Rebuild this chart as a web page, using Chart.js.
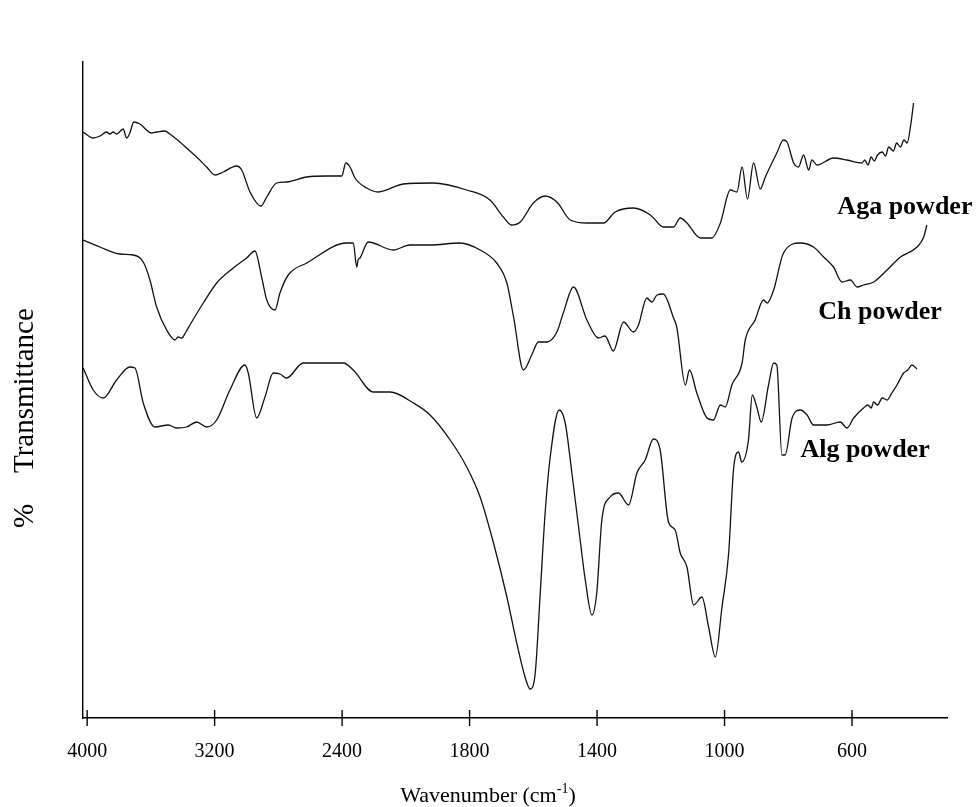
<!DOCTYPE html>
<html>
<head>
<meta charset="utf-8">
<script src="https://cdn.jsdelivr.net/npm/chart.js@4.4.1/dist/chart.umd.min.js"></script>
<style>
  html, body { margin: 0; background: #fff; }
</style>
</head>
<body>
<canvas id="ftir" width="978" height="807"></canvas>
<script>
// wavenumber ticks (axis is compressed 2x above 2000 cm-1)
const tickLabels = [4000, 3200, 2400, 1800, 1400, 1000, 600];

// Aga powder
const agaWave = [4025, 3962, 3920, 3878, 3857, 3837, 3815, 3774, 3752, 3732, 3707, 3669, 3595, 3564, 3512, 3481, 3418, 3376, 3313, 3250, 3198, 3146, 3062, 3030, 2978, 2909, 2873, 2811, 2748, 2622, 2497, 2402, 2377, 2350, 2319, 2246, 2173, 2016, 1914, 1809, 1736, 1694, 1668, 1641, 1600, 1563, 1526, 1484, 1432, 1380, 1343, 1286, 1233, 1223, 1192, 1160, 1139, 1118, 1076, 1040, 1013, 982, 961, 945, 928, 909, 888, 872, 836, 815, 804, 783, 768, 752, 736, 726, 710, 658, 616, 569, 560, 550, 540, 530, 520, 505, 495, 485, 470, 460, 448, 437, 427, 415, 407];
const agaT = [586, 580, 582, 586, 584, 586, 584, 589, 580, 585, 596, 594, 585, 586, 587, 584, 576, 570, 561, 551, 543, 546, 552, 548, 526, 512, 521, 535, 536, 541, 542, 542, 555, 551, 540, 530, 526, 534, 535, 528, 518, 501, 493, 496, 515, 522, 516, 498, 495, 495, 506, 510, 503, 500, 491, 491, 500, 495, 480, 480, 495, 528, 526, 551, 519, 555, 529, 541, 565, 578, 576, 555, 551, 563, 548, 558, 553, 560, 558, 555, 558, 553, 561, 557, 563, 566, 562, 571, 567, 575, 571, 578, 575, 595, 615];

// Ch powder
const chWave = [4025, 3920, 3795, 3711, 3648, 3606, 3564, 3501, 3449, 3430, 3407, 3380, 3355, 3271, 3187, 3083, 2999, 2947, 2905, 2873, 2821, 2790, 2738, 2622, 2371, 2330, 2308, 2300, 2288, 2236, 2079, 1987, 1924, 1830, 1767, 1715, 1683, 1662, 1631, 1605, 1584, 1558, 1526, 1506, 1474, 1432, 1396, 1375, 1349, 1317, 1286, 1270, 1244, 1228, 1212, 1192, 1160, 1150, 1123, 1110, 1087, 1055, 1035, 1013, 998, 977, 945, 935, 904, 878, 866, 846, 815, 762, 721, 689, 658, 632, 605, 584, 564, 532, 490, 448, 396, 375, 365];
const chT = [478, 471, 464, 463, 456, 438, 411, 388, 378, 381, 380, 386, 393, 415, 435, 450, 460, 467, 441, 418, 408, 425, 443, 455, 475, 475, 451, 458, 460, 476, 468, 473, 473, 475, 468, 455, 435, 401, 348, 363, 376, 376, 386, 405, 431, 398, 380, 382, 367, 396, 386, 393, 420, 416, 423, 424, 400, 391, 333, 348, 325, 300, 298, 313, 311, 333, 355, 378, 398, 418, 415, 428, 465, 475, 471, 461, 451, 436, 438, 431, 433, 436, 448, 461, 471, 481, 493];

// Alg powder
const algWave = [4025, 3962, 3899, 3815, 3732, 3700, 3648, 3575, 3491, 3438, 3376, 3313, 3250, 3187, 3104, 3010, 2989, 2936, 2884, 2832, 2790, 2748, 2644, 2392, 2330, 2204, 2099, 1976, 1924, 1861, 1809, 1767, 1725, 1683, 1652, 1625, 1610, 1594, 1579, 1563, 1547, 1519, 1500, 1479, 1453, 1437, 1416, 1401, 1385, 1359, 1333, 1301, 1275, 1249, 1223, 1202, 1176, 1155, 1139, 1118, 1097, 1071, 1050, 1029, 1008, 987, 972, 956, 946, 925, 913, 898, 885, 862, 846, 836, 820, 810, 788, 762, 741, 721, 679, 637, 616, 595, 564, 550, 540, 532, 520, 505, 490, 475, 459, 438, 425, 412, 396];
const algT = [350, 328, 320, 338, 351, 350, 315, 291, 293, 290, 291, 296, 291, 298, 328, 353, 345, 300, 321, 345, 344, 340, 355, 355, 348, 326, 326, 315, 303, 278, 251, 221, 175, 121, 75, 40, 29, 45, 121, 205, 261, 308, 295, 245, 178, 138, 103, 125, 198, 221, 225, 213, 245, 258, 279, 268, 196, 188, 165, 151, 113, 121, 91, 61, 111, 165, 248, 266, 256, 278, 323, 310, 296, 333, 355, 353, 263, 263, 300, 308, 303, 293, 293, 296, 290, 300, 310, 313, 310, 316, 313, 320, 318, 325, 333, 345, 348, 353, 349];

// curve labels
const labelNames = ['Aga powder', 'Ch powder', 'Alg powder'];
const labelWave = [646, 706, 762];
const labelT = [511, 406, 268];

// position on the x axis: 1 unit per cm-1 below 2000, half above
function toPos(w) {
  return w >= 2000 ? (2000 - w) / 2 : 2000 - w;
}

function series(waves, vals) {
  return waves.map((w, i) => ({ x: toPos(w), y: vals[i] }));
}

const serif = '"Liberation Serif", "Times New Roman", serif';

const overlay = {
  id: 'overlay',
  afterDraw(chart) {
    const { ctx, chartArea } = chart;
    const x = chart.scales.x, y = chart.scales.y;
    ctx.save();
    ctx.strokeStyle = '#000';
    ctx.lineWidth = 1.4;
    x.ticks.forEach(t => {
      const px = x.getPixelForValue(t.value);
      ctx.beginPath();
      ctx.moveTo(px, chartArea.bottom - 8);
      ctx.lineTo(px, chartArea.bottom + 8);
      ctx.stroke();
    });

    ctx.fillStyle = '#000';
    ctx.font = 'bold 26px ' + serif;
    ctx.textBaseline = 'middle';
    ctx.textAlign = 'left';
    labelNames.forEach((name, i) => {
      ctx.fillText(name, x.getPixelForValue(toPos(labelWave[i])), y.getPixelForValue(labelT[i]));
    });

    // x title with superscript
    const main = 'Wavenumber (cm', sup = '-1', end = ')';
    ctx.textBaseline = 'alphabetic';
    ctx.font = '22px ' + serif;
    const w1 = ctx.measureText(main).width, w3 = ctx.measureText(end).width;
    ctx.font = '14px ' + serif;
    const w2 = ctx.measureText(sup).width;
    const tx = 488 - (w1 + w2 + w3) / 2;
    const base = 802;
    ctx.font = '22px ' + serif;
    ctx.fillText(main, tx, base);
    ctx.font = '14px ' + serif;
    ctx.fillText(sup, tx + w1, base - 9);
    ctx.font = '22px ' + serif;
    ctx.fillText(end, tx + w1 + w2, base);

    // y title, rotated
    ctx.translate(33, 528);
    ctx.rotate(-Math.PI / 2);
    ctx.font = '29px ' + serif;
    ctx.fillText('%', 0, 0);
    ctx.fillText('Transmittance', 55, 0);
    ctx.restore();
  }
};

const line = (data) => ({
  data: data,
  borderColor: '#111',
  borderWidth: 1.3,
  pointRadius: 0,
  cubicInterpolationMode: 'monotone',
  fill: false
});

new Chart(document.getElementById('ftir'), {
  type: 'line',
  data: {
    datasets: [
      line(series(agaWave, agaT)),
      line(series(chWave, chT)),
      line(series(algWave, algT))
    ]
  },
  options: {
    responsive: false,
    devicePixelRatio: 1,
    animation: false,
    layout: { padding: { left: 0, right: 31, top: 62, bottom: 0 } },
    plugins: { legend: { display: false }, tooltip: { enabled: false } },
    scales: {
      x: {
        type: 'linear',
        min: -1013,
        max: 1698,
        afterFit: s => { s.height = 89; },
        afterBuildTicks: s => { s.ticks = tickLabels.map(w => ({ value: toPos(w) })); },
        grid: { display: false },
        border: { color: '#000', width: 1.4 },
        ticks: {
          autoSkip: false,
          maxRotation: 0,
          padding: 14,
          color: '#000',
          font: { family: serif, size: 20 },
          callback: v => {
            const w = tickLabels.find(t => toPos(t) === v);
            return w === undefined ? '' : String(w);
          }
        }
      },
      y: {
        min: 0,
        max: 656,
        afterFit: s => { s.width = 83; },
        grid: { display: false },
        border: { color: '#000', width: 1.4 },
        ticks: { display: false },
        title: { display: false }
      }
    }
  },
  plugins: [overlay]
});
</script>
</body>
</html>
